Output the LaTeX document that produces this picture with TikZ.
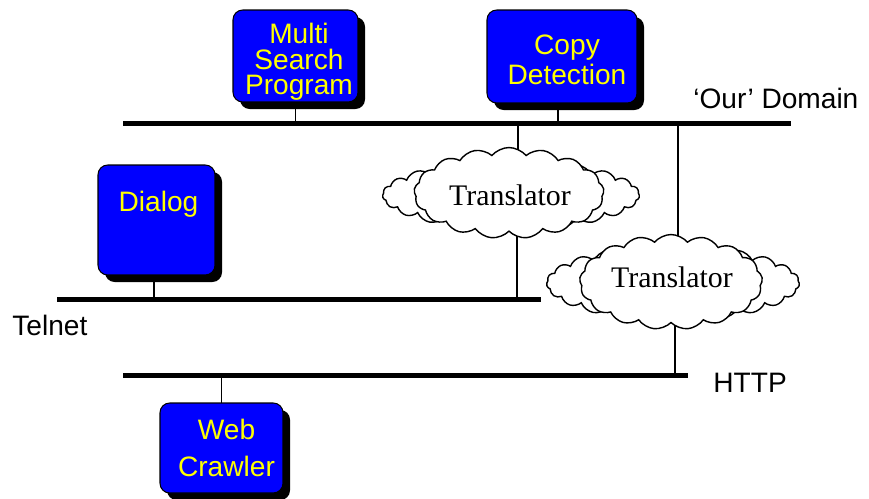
\documentclass[tikz,border=0pt]{standalone}
\usepackage{fontspec}
\setmainfont{Liberation Serif}
\newfontfamily\arial{Liberation Sans}
\usetikzlibrary{shapes.symbols,shadows}
\definecolor{boxblue}{RGB}{0,0,255}
\definecolor{boxyellow}{RGB}{255,255,0}
\tikzset{
  bus/.style={line width=3.4pt},
  link/.style={line width=0.8pt},
  appbox/.style={draw=black, line width=0.6pt, fill=boxblue, rounded corners=5.5pt,
    inner sep=0pt, outer sep=0pt,
    drop shadow={shadow xshift=4pt, shadow yshift=-4pt, opacity=1, fill=black}},
  apptext/.style={text=boxyellow, align=center, inner sep=0pt, font=\arial\fontsize{16}{15}\selectfont},
  netlabel/.style={anchor=base west, inner sep=0pt, font=\arial\fontsize{16}{19}\selectfont},
  cloudfront/.style={cloud, cloud ignores aspect, draw=black, line width=0.8pt, fill=white,
    cloud puffs=17, cloud puff arc=100, inner sep=0pt},
  cloudback/.style={cloud, cloud ignores aspect, draw=black, line width=0.8pt, fill=white,
    cloud puffs=23, cloud puff arc=115, inner sep=0pt},
  trtext/.style={inner sep=0pt, font=\fontsize{17}{19}\selectfont}
}
\begin{document}
\begin{tikzpicture}[x=0.02cm, y=-0.02cm]
\useasboundingbox (0,0) rectangle (869,498);

% network buses
\coordinate (domL) at (123,123.5);  \coordinate (domR) at (791,123.5);
\coordinate (telL) at (57,299.5);   \coordinate (telR) at (541,299.5);
\coordinate (httpL) at (123,375.5); \coordinate (httpR) at (688,375.5);
\draw[bus] (domL) -- (domR);
\draw[bus] (telL) -- (telR);
\draw[bus] (httpL) -- (httpR);

% bus labels
\node[netlabel] (domlbl) at (693,108) {‘Our’ Domain};
\node[netlabel] (tellbl) at (12,335) {Telnet};
\node[netlabel] (httplbl) at (713,392) {HTTP};

% taps where translators join the buses
\coordinate (tap1) at (518,123.5);
\coordinate (tap2) at (517,299.5);
\coordinate (tap3) at (678,123.5);
\coordinate (tap4) at (675,375.5);

\draw[link] (tap1) -- (tap1 |- 0,195);
\draw[link] (tap2) -- (tap2 |- 0,195);
\draw[link] (tap3) -- (tap3 |- 0,282);
\draw[link] (tap4) -- (tap4 |- 0,282);

% translator clouds, drawn over the tap lines
\node[cloudback, minimum width=5.14cm, minimum height=1.40cm] (tr1back) at (511,195) {};
\node[cloudfront, minimum width=3.80cm, minimum height=1.82cm] (tr1) at (509,193) {};
\node[trtext] (tr1txt) at (510,195) {Translator};

\node[cloudback, minimum width=5.06cm, minimum height=1.52cm] (tr2back) at (673,283) {};
\node[cloudfront, minimum width=3.66cm, minimum height=1.90cm] (tr2) at (671,282) {};
\node[trtext] (tr2txt) at (672,277) {Translator};

% application boxes
\node[appbox, minimum width=2.5cm, minimum height=1.84cm] (msp) at (295.5,56) {};
\node[apptext, font=\arial\fontsize{16}{14.5}\selectfont] (msptxt) at (299,62) {Multi\\Search\\Program};

\node[appbox, minimum width=3.0cm, minimum height=1.86cm] (copy) at (562,56.5) {};
\node[apptext, font=\arial\fontsize{16}{17}\selectfont] (copytxt) at (567,60) {Copy\\Detection};

\node[appbox, minimum width=2.34cm, minimum height=2.2cm] (dialog) at (156.5,220) {};
\node[apptext] (dialogtxt) at (158.5,204) {Dialog};

\node[appbox, minimum width=2.46cm, minimum height=1.8cm] (web) at (221.5,448) {};
\node[apptext, font=\arial\fontsize{16}{21.5}\selectfont] (webtxt) at (226.5,448) {Web\\Crawler};

% links from boxes to buses
\draw[link] ([yshift=-4pt]msp.south) -- (msp.south |- domL);
\draw[link] ([xshift=-0.08cm,yshift=-4pt]copy.south) -- ([xshift=-0.08cm]copy.south |- domL);
\draw[link] ([xshift=-0.05cm,yshift=-4pt]dialog.south) -- ([xshift=-0.05cm]dialog.south |- telL);
\draw[link] (web.north) -- (web.north |- httpL);
\end{tikzpicture}
\end{document}
